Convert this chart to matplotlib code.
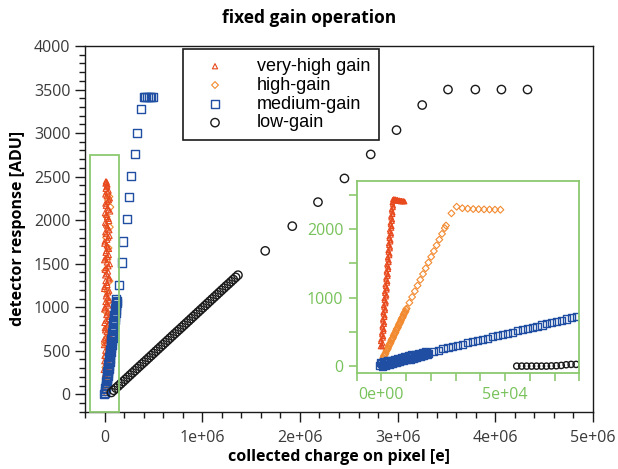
import matplotlib
matplotlib.use("Agg")

import matplotlib.pyplot as plt
from matplotlib.patches import Rectangle
from matplotlib.ticker import FixedLocator, MultipleLocator

# ---- main panel data (x in thousands of electrons, y in ADU) ----
vhg_x_k = [5, 30, 12, 42, -2, 25, 50, 8, 35, 18, -5, 45, 22, 3, 38, 14, 52, 28, -3, 40,
           10, 33, 20, 48, 0, 26, 44, 7, 36, 16, 55, -4, 30, 11, 46, 24, 2, 39, 15, 50,
           27, 6, 42, 19, 58, 32, 9, 45, 22, 35, 12, 26, 18, 14,
           20, -8, 40, 15, 33, 0, 22, 45, -6, 28, 12, 50, 6, 30, -1, 42, 18, 35, 4, 25,
           52, 14, 38, -4, 30, 10, 48, 20, 2, 40, 24, 8, 44, 18, 34, -2, 28, 52, 8, 36,
           16, 48, 26, 4, 40, 14, 30, 55, 8, 42, 20, 30, 10, 22]
vhg_y = [230, 260, 300, 340, 380, 420, 460, 500, 545, 590, 630, 670, 715, 760, 800, 845,
         890, 930, 975, 1020, 1060, 1105, 1150, 1190, 1235, 1280, 1320, 1365, 1410, 1450,
         1495, 1540, 1580, 1625, 1670, 1710, 1755, 1800, 1840, 1885, 1930, 1970, 2015, 2060,
         2100, 2145, 2190, 2230, 2275, 2320, 2360, 2395, 2430, 2445,
         250, 280, 320, 360, 400, 440, 480, 520, 565, 610, 650, 690, 735, 780, 820, 865,
         910, 950, 995, 1040, 1080, 1125, 1170, 1210, 1255, 1300, 1340, 1385, 1430, 1470,
         1515, 1560, 1600, 1645, 1690, 1730, 1775, 1820, 1860, 1905, 1950, 1990, 2035, 2080,
         2120, 2165, 2210, 2250, 2295, 2340, 2380, 2410, 2420, 2440]

hg_x_k = [10, 25, 5, 35, 18, 40, 8, 28, 15, 45, 2, 32, 20, 48, 12, 38, 25, 52, 6, 30,
          42, 16, 55, 22, 60, 36, 50, 28, 0, 20, 38, 12]
hg_y = [20, 60, 110, 150, 200, 250, 310, 370, 430, 500, 580, 660, 750, 850, 950, 1060,
        1180, 1300, 1420, 1550, 1680, 1800, 1920, 2040, 2150, 2230, 2270, 2300, 40, 90,
        130, 170]

mg_x_k = [-3, 4, 9, 14, 19, 22, 27, 31, 36, 40, 44, 49, 53, 57, 62, 66, 70, 75, 79, 84,
          88, 92, 97, 101, 106, 110, 114, 118, 122,
          5, 12, 17, 24, 29, 33, 38, 43, 47, 52, 56, 60, 65, 69, 73, 78, 82, 87, 91, 95,
          100, 104, 108, 113, 117, 121, 125, 128,
          152, 176, 193, 227, 250, 270, 311, 331, 369,
          400, 420, 440, 460, 480, 500]
mg_y = [5, 35, 75, 110, 150, 190, 230, 270, 310, 350, 390, 430, 470, 510, 550, 590, 630,
        670, 710, 750, 790, 830, 870, 910, 950, 990, 1030, 1060, 1090,
        15, 60, 95, 135, 175, 215, 250, 290, 330, 370, 410, 450, 490, 530, 570, 610, 650,
        690, 730, 770, 810, 850, 890, 930, 970, 1010, 1045, 1075,
        1253, 1514, 1755, 2008, 2261, 2506, 2759, 3004, 3272,
        3415, 3415, 3415, 3415, 3415, 3415]

lg_x_k = [70, 94, 118, 142, 166, 190, 214, 238, 262, 286, 310, 334, 358, 382, 406, 430,
          454, 478, 502, 526, 550, 574, 598, 622, 646, 670, 694, 718, 742, 766, 790, 814,
          838, 862, 886, 910, 934, 958, 982, 1006, 1030, 1054, 1078, 1102, 1126, 1150,
          1174, 1198, 1222, 1246, 1270, 1294, 1318, 1342, 1366,
          1645, 1922, 2185, 2456, 2725, 2989, 3252, 3516, 3796, 4063, 4330]
lg_y = [21, 46, 71, 96, 121, 146, 171, 196, 221, 246, 271, 296, 321, 346, 370, 395, 420,
        445, 470, 495, 520, 545, 570, 595, 620, 645, 670, 695, 720, 744, 769, 794, 819,
        844, 869, 894, 919, 944, 969, 994, 1019, 1044, 1069, 1094, 1119, 1144, 1169, 1194,
        1219, 1244, 1268, 1293, 1318, 1343, 1368,
        1647, 1931, 2207, 2479, 2755, 3034, 3322, 3500, 3500, 3500, 3500]

# ---- inset data (x in electrons, y in ADU) ----
ins_vhg_x = [-400, 300, 500, -200, 800, 100, 1000, 300, 1200, 500, 1400, 700, 1600, 900,
             1900, 1100, 2100, 1300, 2300, 1500, 2500, 1800, 2700, 2000, 2900, 2200, 3100,
             2500, 3400, 2700, 3600, 2900, 3800, 3100, 4000, 3300, 4200, 3600, 4400, 3800,
             4600, 4100, 4800, 4400, 4600,
             5000, 5400, 5800, 6200, 6600, 7000, 7400, 7800, 8200, 8600, 9000, 9400,
             100, -300, 700, 200, 900, 400, 1100, 600, 1300, 800, 1500, 1000, 1700, 1200,
             1900, 1400, 2200, 1700, 2400, 1900, 2600, 2100, 2800, 2400, 3000, 2600, 3300,
             2800, 3500, 3000, 3700, 3200, 3900, 3500, 4100, 3700, 4300, 3900, 4500, 4200,
             4700, 4500, 4800, 5200, 5600, 6000, 6400, 6800, 7200, 7600, 8000, 8400, 8800,
             9200]
ins_vhg_y = [290, 290, 340, 390, 440, 490, 540, 590, 640, 690, 740, 790, 840, 890, 940,
             990, 1040, 1090, 1140, 1190, 1240, 1290, 1340, 1390, 1440, 1490, 1540, 1590,
             1640, 1690, 1740, 1790, 1840, 1890, 1940, 1990, 2040, 2090, 2140, 2190, 2240,
             2290, 2340, 2390, 2430,
             2440, 2420, 2430, 2410, 2420, 2405, 2415, 2400, 2410, 2400, 2405, 2400,
             315, 365, 415, 465, 515, 565, 615, 665, 715, 765, 815, 865, 915, 965, 1015,
             1065, 1115, 1165, 1215, 1265, 1315, 1365, 1415, 1465, 1515, 1565, 1615, 1665,
             1715, 1765, 1815, 1865, 1915, 1965, 2015, 2065, 2115, 2165, 2215, 2265, 2315,
             2365, 2410, 2430, 2435, 2420, 2430, 2415, 2420, 2410, 2415, 2405, 2410, 2405]

ins_hg_x = [700, 1200, 1700, 2200, 2700, 3200, 3700, 4200, 4700, 5200, 5700, 6200, 6700,
            7200, 7700, 8200, 8700, 9200, 9700, 10200,
            950, 1450, 1950, 2450, 2950, 3450, 3950, 4450, 4950, 5450, 5950, 6450, 6950,
            7450, 7950, 8450, 8950, 9450, 9950,
            11300, 12400, 13500, 14600, 15700, 16800, 17900, 19000, 20100, 21200, 22300,
            23400, 24500, 25600, 26100,
            28300, 30400, 32700, 34900, 37100, 39300, 41500, 43700, 45900, 48100]
ins_hg_y = [122, 165, 195, 240, 270, 318, 345, 392, 420, 470, 498, 546, 572, 620, 650, 698,
            725, 772, 800, 844,
            150, 175, 222, 250, 296, 330, 372, 405, 448, 480, 524, 556, 600, 632, 676, 708,
            752, 785, 828,
            928, 1011, 1095, 1178, 1262, 1346, 1429, 1513, 1596, 1680, 1764, 1847, 1931,
            2014, 2052,
            2230, 2326, 2305, 2298, 2292, 2290, 2287, 2285, 2283, 2282]

ins_mg_x = [-700, 0, 700, 1400, 2100, 2800, 3500, 4200, 4900, 5600, 6300, 7000, 7700, 8400,
            9100, 9800, 10500, 11200, 11900, 12600, 13300, 14000, 14700, 15400, 16100,
            16800, 17500, 18200, 18900,
            -350, 350, 1050, 1750, 2450, 3150, 3850, 4550, 5250, 5950, 6650, 7350, 8050,
            8750, 9450, 10150, 10850, 11550, 12250, 12950, 13650, 14350, 15050, 15750,
            16450, 17150, 17850, 18550,
            20900, 22900, 24900, 26900, 28900, 30900, 32900, 34900, 36900, 38900, 40900,
            42900, 44900, 46900, 48900, 50900, 52900, 54900, 56900, 58900, 60900, 62900,
            64900, 66900, 68900, 70900, 72900, 74900, 76900, 78900]
ins_mg_y = [10, 40, 22, 52, 35, 63, 47, 76, 60, 88, 72, 100, 84, 112, 97, 125, 110, 138,
            122, 150, 135, 162, 148, 175, 160, 187, 173, 200, 190,
            55, 5, 68, 20, 80, 32, 93, 45, 105, 58, 118, 70, 130, 82, 142, 95, 155, 108,
            167, 120, 180, 133, 192, 146, 205, 158, 217, 172,
            221, 239, 256, 274, 291, 308, 326, 343, 361, 378, 395, 413, 430, 448, 465, 482,
            500, 517, 535, 552, 569, 587, 604, 622, 639, 656, 674, 691, 709, 726]

ins_lg_x = [54700, 56700, 58700, 60700, 62700, 64700, 66700, 68700, 70700, 72700, 74700,
            76700, 78700]
ins_lg_y = [5, 5, 5, 5, 5, 5, 5, 8, 10, 15, 25, 30, 30]

main_xticks = [0, 1e6, 2e6, 3e6, 4e6, 5e6]
main_xticklabels = ["0", "1e+06", "2e+06", "3e+06", "4e+06", "5e+06"]
ins_xticks = [0, 5e4]
ins_xticklabels = ["0e+00", "5e+04"]

RED = "#e8491d"
ORANGE = "#f28a30"
BLUE = "#1f4ea3"
BLACK = "#1a1a1a"
GREEN = "#8cc970"
GREEN_TXT = "#78c25a"
TICK_TXT = "#3a3a3a"

fig = plt.figure(figsize=(6.18, 4.69), dpi=100)
ax = fig.add_axes([0.1375, 0.1222, 0.822, 0.7797])


def k(vals):
    return [v * 1e3 for v in vals]


ax.scatter(k(hg_x_k), hg_y, marker="D", s=12, facecolors="none", edgecolors=ORANGE,
           linewidths=0.8, label="high-gain")
ax.scatter(k(vhg_x_k), vhg_y, marker="^", s=14, facecolors="none", edgecolors=RED,
           linewidths=0.8, label="very-high gain")
ax.scatter(k(mg_x_k), mg_y, marker="s", s=34, facecolors="none", edgecolors=BLUE,
           linewidths=1.0, label="medium-gain")
ax.scatter(k(lg_x_k), lg_y, marker="o", s=36, facecolors="none", edgecolors=BLACK,
           linewidths=1.0, label="low-gain")

ax.add_patch(Rectangle((-1.45e5, -200), 2.9e5, 2950, fill=False, edgecolor=GREEN,
                       linewidth=1.3, zorder=5, clip_on=False))

ax.set_xlim(-2e5, 5e6)
ax.set_ylim(-200, 4000)
ax.xaxis.set_major_locator(FixedLocator(main_xticks))
ax.set_xticklabels(main_xticklabels)
ax.xaxis.set_minor_locator(MultipleLocator(2e5))
ax.yaxis.set_major_locator(MultipleLocator(500))
ax.yaxis.set_minor_locator(MultipleLocator(100))
ax.tick_params(which="both", direction="out", top=False, right=False, color=BLACK,
               labelcolor=TICK_TXT, labelsize=11.5, width=1.0)
ax.tick_params(which="major", length=7)
ax.tick_params(which="minor", length=4)
ax.tick_params(axis="x", which="major", pad=6)
for lab in ax.get_xticklabels() + ax.get_yticklabels():
    lab.set_fontfamily("Open Sans")
for sp in ax.spines.values():
    sp.set_linewidth(1.0)
    sp.set_color(BLACK)

ax.set_xlabel("collected charge on pixel [e]", fontsize=11.5, fontweight="bold",
              family="Open Sans", labelpad=2)
ax.set_ylabel("detector response [ADU]", fontsize=11.5, fontweight="bold",
              family="Open Sans", labelpad=6)
fig.text(0.5, 0.962, "fixed gain operation", fontsize=12.5, fontweight="bold",
         family="Open Sans", ha="center", va="center")

handles, labels = ax.get_legend_handles_labels()
order = [1, 0, 2, 3]
leg = ax.legend([handles[i] for i in order], [labels[i] for i in order],
                loc="upper left", bbox_to_anchor=(0.192, 0.992), borderaxespad=0,
                prop={"family": "Liberation Sans", "size": 13}, frameon=True,
                fancybox=False, framealpha=1, edgecolor=BLACK, borderpad=0.5,
                handlelength=2.6, handletextpad=1.0, labelspacing=0.1)
leg.get_frame().set_linewidth(1.2)

# ---- inset ----
ins = fig.add_axes([0.5772, 0.204, 0.3602, 0.41])
ins.scatter(ins_hg_x, ins_hg_y, marker="D", s=12, facecolors="none", edgecolors=ORANGE,
            linewidths=0.8)
ins.scatter(ins_vhg_x, ins_vhg_y, marker="^", s=10, facecolors="none", edgecolors=RED,
            linewidths=0.8)
ins.scatter(ins_mg_x, ins_mg_y, marker="s", s=26, facecolors="none", edgecolors=BLUE,
            linewidths=1.0)
ins.scatter(ins_lg_x, ins_lg_y, marker="o", s=20, facecolors="none", edgecolors=BLACK,
            linewidths=1.0)
ins.set_xlim(-1e4, 8e4)
ins.set_ylim(-100, 2700)
ins.xaxis.set_major_locator(FixedLocator(ins_xticks))
ins.set_xticklabels(ins_xticklabels)
ins.xaxis.set_minor_locator(MultipleLocator(1e4))
ins.yaxis.set_major_locator(MultipleLocator(1000))
ins.yaxis.set_minor_locator(MultipleLocator(500))
ins.tick_params(which="both", direction="out", top=False, right=False, color=GREEN,
                labelcolor=GREEN_TXT, labelsize=11.5, width=1.2)
ins.tick_params(which="major", length=6)
ins.tick_params(which="minor", length=6)
for lab in ins.get_xticklabels() + ins.get_yticklabels():
    lab.set_fontfamily("Open Sans")
for sp in ins.spines.values():
    sp.set_color(GREEN)
    sp.set_linewidth(1.3)

fig.savefig("out.png", dpi=100)
